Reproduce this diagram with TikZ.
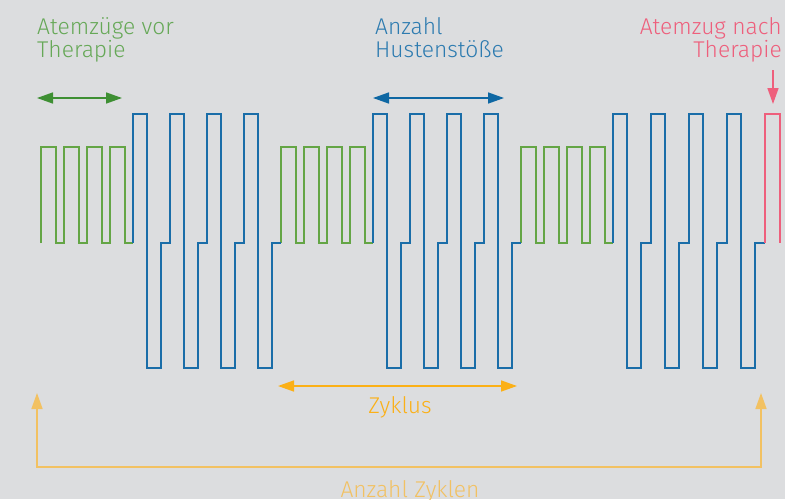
\documentclass[tikz,border=0pt]{standalone}
\usepackage{fontspec}
\setmainfont{Fira Sans Light}
\usetikzlibrary{arrows.meta}

\definecolor{bgc}{HTML}{DCDDDF}
\definecolor{wgreen}{HTML}{64A545}
\definecolor{agreen}{HTML}{3E8F33}
\definecolor{tgreen}{HTML}{66A857}
\definecolor{wblue}{HTML}{1A6DA8}
\definecolor{ablue}{HTML}{0E67A3}
\definecolor{tblue}{HTML}{2D7BB0}
\definecolor{wpink}{HTML}{EE5F7C}
\definecolor{orng}{HTML}{FBB017}
\definecolor{orngl}{HTML}{F2C162}

\tikzset{
  wave/.style={line width=2pt, line join=miter},
  lbl/.style={inner sep=0pt, font=\fontsize{22.8}{24}\selectfont},
  head/.style={-{Triangle[length=16pt,width=11pt]}},
  dhead/.style={{Triangle[length=16pt,width=11pt]}-{Triangle[length=16pt,width=11pt]}},
}

\begin{document}
\begin{tikzpicture}[x=1pt,y=-1pt]
  \fill[bgc] (0,0) rectangle (785,499);
  \useasboundingbox (0,0) rectangle (785,499);
  \clip (0,0) rectangle (785,499);

  % breathing phases (green)
  \foreach \o in {0,240,480}{
    \draw[wave, wgreen] (41+\o,243)
      \foreach \i in {1,...,4}{ -- ++(0,-96) -- ++(14.5,0) -- ++(0,96) -- ++(8.5,0) };
  }
  % cough phases (blue)
  \foreach \o/\s in {0/9,240/9,480/10}{
    \draw[wave, wblue] (133+\o,243)
      \foreach \i in {1,...,4}{ -- ++(0,-129) -- ++(14,0) -- ++(0,254) -- ++(14,0) -- ++(0,-125) -- ++(\s,0) };
  }
  % final breath (pink)
  \draw[wave, wpink] (765,243) -- (765,114) -- (780,114) -- (780,243);

  % labels
  \node[lbl, text=tgreen, anchor=base west] (vor1) at (37,34) {Atemzüge vor};
  \node[lbl, text=tgreen, anchor=base west] (vor2) at (37,57) {Therapie};
  \node[lbl, text=tblue, anchor=base west] (hus1) at (375,34) {Anzahl};
  \node[lbl, text=tblue, anchor=base west] (hus2) at (375,57) {Hustenstöße};
  \node[lbl, text=wpink, anchor=base east] (nach1) at (782,34) {Atemzug nach};
  \node[lbl, text=wpink, anchor=base east] (nach2) at (782,57) {Therapie};
  \node[lbl, text=orng, anchor=base] (zyk) at (400,413) {Zyklus};
  \node[lbl, text=orngl, anchor=base] (anz) at (410,497) {Anzahl Zyklen};

  % dimension arrows
  \coordinate (g1) at (37,98);  \coordinate (g2) at (122,98);
  \coordinate (b1) at (373,98); \coordinate (b2) at (504,98);
  \coordinate (p1) at (773,70); \coordinate (p2) at (773,104);
  \coordinate (z1) at (278,386); \coordinate (z2) at (517,386);
  \coordinate (a1) at (37,393); \coordinate (a2) at (761,393);

  \draw[dhead, agreen, line width=1.5pt] (g1) -- (g2);
  \draw[dhead, ablue, line width=1.5pt] (b1) -- (b2);
  \draw[head, wpink, line width=1.5pt] (p1) -- (p2);
  \draw[dhead, orng, line width=1.5pt] (z1) -- (z2);
  \draw[dhead, orngl, line width=1.5pt] (a1) |- (399,467) -| (a2);
\end{tikzpicture}
\end{document}
